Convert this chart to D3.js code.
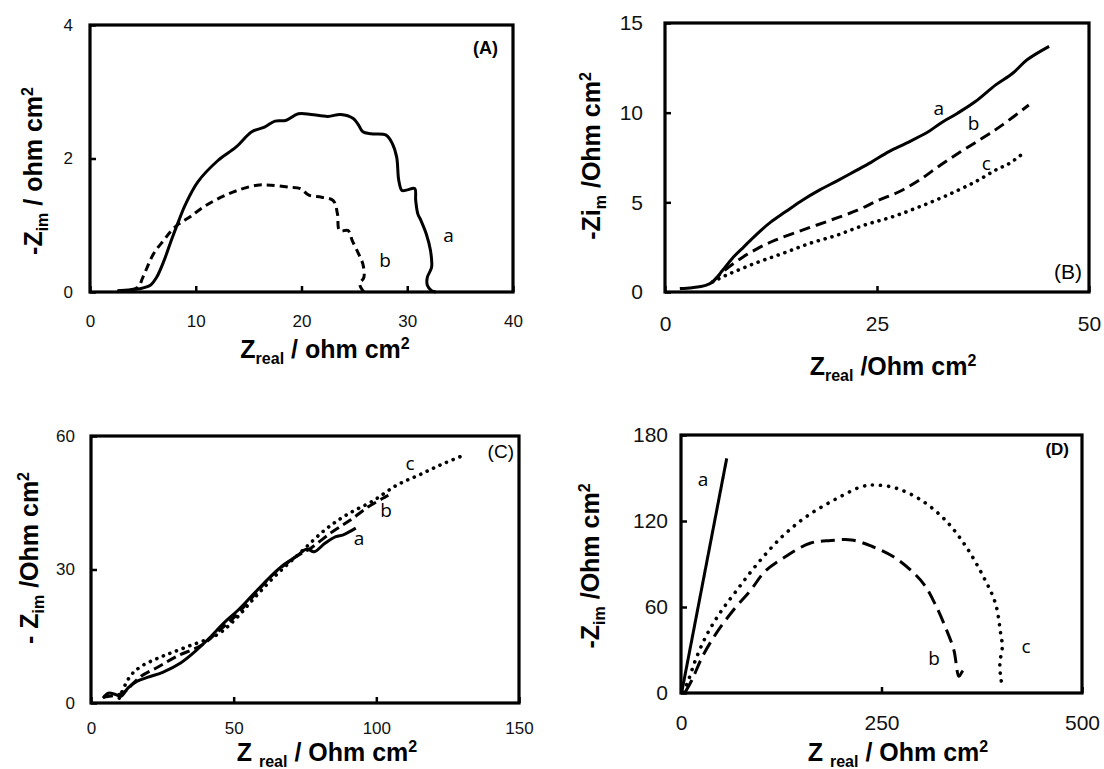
<!DOCTYPE html>
<html>
<head>
<meta charset="utf-8">
<title>Nyquist plots</title>
<script src="https://cdn.jsdelivr.net/npm/d3@7/dist/d3.min.js"></script>
<style>
  body { margin: 0; background: #fff; }
  svg { display: block; }
</style>
</head>
<body>
<svg id="mainsvg" width="1104" height="769"></svg>
<script>
// ---------- data (Z_real, -Z_im) ----------
// panel A
const aTicksX = [0, 10, 20, 30, 40];
const aTicksY = [0, 2, 4];
const aCurveA = [[2.6,0.02],[4.7,0.05],[5.7,0.1],[6.3,0.22],[7.0,0.47],[7.7,0.78],[8.4,1.07],[9.05,1.32],[10.2,1.65],[12.1,1.97],[13.8,2.17],[15.3,2.4],[16.5,2.47],[17.5,2.56],[18.5,2.57],[19.7,2.67],[20.9,2.66],[22.5,2.63],[23.7,2.66],[24.9,2.6],[25.4,2.5],[25.8,2.4],[26.6,2.37],[28.0,2.35],[28.6,2.22],[29.0,2.02],[29.2,1.67],[29.5,1.52],[30.0,1.53],[30.7,1.55],[30.8,1.37],[31.0,1.17],[31.3,1.07],[31.8,0.87],[32.2,0.62],[32.3,0.37],[31.9,0.22],[31.9,0.1],[32.3,0.02],[32.7,0]];
const aCurveB = [[2.6,0.01],[4.5,0.07],[5.0,0.22],[6.0,0.57],[7.0,0.78],[7.7,0.92],[8.4,1.02],[9.4,1.12],[10.7,1.27],[12.4,1.42],[14.1,1.53],[15.8,1.6],[17.1,1.6],[18.8,1.57],[19.9,1.55],[20.7,1.45],[21.9,1.42],[23.0,1.37],[23.4,1.17],[23.6,0.92],[24.4,0.92],[24.8,0.77],[25.4,0.57],[25.8,0.42],[25.9,0.22],[25.5,0.12],[25.8,0.02],[25.9,0]];

// panel B
const bTicksX = [0, 25, 50];
const bTicksY = [0, 5, 10, 15];
const bCurveA = [[1.75,0.19],[3.2,0.24],[4.8,0.37],[5.6,0.56],[6.8,1.21],[8.1,1.96],[9.3,2.52],[10.9,3.26],[12.5,3.91],[14.2,4.47],[16.2,5.12],[18.2,5.68],[20.3,6.2],[22.3,6.71],[24.3,7.23],[26.4,7.83],[28.4,8.29],[30.9,8.89],[32.5,9.41],[34.5,9.97],[36.6,10.62],[39.0,11.55],[41.0,12.2],[42.7,12.95],[45.3,13.7]];
const bCurveB = [[5.6,0.56],[6.8,1.12],[8.9,1.86],[10.9,2.42],[13.0,2.89],[16.2,3.45],[19.5,4.0],[22.7,4.56],[25.2,5.12],[27.6,5.59],[30.0,6.24],[32.5,7.08],[34.9,7.83],[37.4,8.57],[39.8,9.32],[42.9,10.43]];
const bCurveC = [[5.6,0.56],[7.2,0.93],[10.5,1.58],[13.8,2.14],[17.0,2.7],[20.3,3.17],[23.5,3.73],[26.8,4.19],[30.0,4.75],[33.3,5.4],[36.6,6.15],[39.0,6.8],[40.6,7.17],[42.5,7.83]];

// panel C
const cTicksX = [0, 50, 100, 150];
const cTicksY = [0, 30, 60];
const cCurveA = [[4.2,1.1],[6.1,2.2],[8.6,1.9],[10.5,1.5],[13.0,3.4],[16.2,4.9],[20.0,5.8],[25.1,6.9],[31.4,9.0],[36.5,11.6],[41.5,14.6],[46.6,18.0],[51.6,20.9],[56.7,24.3],[61.8,27.7],[66.8,30.7],[71.9,32.9],[75.7,34.6],[78.2,34.0],[82.0,35.9],[85.8,37.4],[88.4,37.8],[92.8,39.3]];
const cCurveB = [[4.2,1.3],[11.1,2.2],[13.7,3.7],[17.5,6.0],[23.8,8.2],[30.1,10.5],[39.0,13.1],[45.3,16.5],[50.4,19.4],[56.7,23.9],[64.3,29.2],[71.9,32.9],[77.0,34.8],[84.6,38.5],[90.9,41.1],[97.2,44.1],[102.3,46.0],[104.2,46.7]];
const cCurveC = [[9.9,1.1],[13.7,6.0],[17.5,8.2],[25.1,10.5],[33.9,12.7],[44.1,15.3],[50.4,18.7],[56.7,23.2],[64.3,28.4],[73.2,33.7],[82.0,38.9],[89.6,42.3],[98.5,45.3],[107.3,49.0],[114.9,51.2],[122.5,53.5],[130.7,55.7]];

// panel D
const dTicksX = [0, 250, 500];
const dTicksY = [0, 60, 120, 180];
const dCurveA = [[0.9,0.5],[57,163.7]];
const dCurveB = [[5.2,0.5],[13.8,9.3],[26.8,25.5],[44.1,41.8],[65.7,58.1],[87.3,72.0],[104.6,84.8],[130.5,95.2],[160.8,104.5],[186.7,106.4],[212.6,106.8],[238.5,102.2],[264.5,95.2],[286.1,85.9],[303.4,75.5],[316.3,62.7],[329.3,46.4],[340.1,30.2],[346.6,11.6],[350.9,15.1],[357.4,18.6]];
const dCurveC = [[3.0,0.5],[9.5,9.3],[18.2,23.2],[31.1,39.5],[48.4,55.7],[70.0,72.0],[95.9,90.6],[126.2,109.2],[156.4,123.1],[191.0,134.7],[225.6,144.0],[242.9,145.1],[268.8,142.8],[299.1,134.7],[329.3,120.8],[355.3,102.2],[376.9,81.3],[392.0,62.7],[398.5,41.8],[400.6,32.5],[397.6,20.9],[398.5,11.6],[400.6,4.6]];

// curve labels [text, x, y] in data units
const aLabels = [['a',33.9,0.85],['b',27.9,0.48]];
const bLabels = [['a',32.3,10.26],['b',36.4,9.4],['c',37.9,7.2]];
const cLabels = [['c',111.8,53.9],['b',103.4,43.4],['a',93.9,37.1]];
const dLabels = [['a',27.4,149.3],['b',315.5,24.4],['c',430.2,32.8]];

// ---------- drawing ----------
const svg = d3.select('#mainsvg');
const FONT = '"Liberation Sans", Arial, sans-serif';
const TITLE = 25;

// write text with sub/superscript parts
function richText(sel, parts, size) {
  let shift = 0;
  parts.forEach(p => {
    const ts = sel.append('tspan').text(p[0]);
    let target = 0;
    if (p[1] === 'sub') { ts.attr('font-size', size * 0.64); target = size * 0.22; }
    else if (p[1] === 'sup') { ts.attr('font-size', size * 0.64); target = -size * 0.36; }
    ts.attr('dy', target - shift);
    shift = target;
  });
}

function panel(cfg) {
  const x = d3.scaleLinear().domain(cfg.xd).range([cfg.left, cfg.right]);
  const y = d3.scaleLinear().domain(cfg.yd).range([cfg.bottom, cfg.top]);
  const g = svg.append('g');
  const fmt = d3.format('d');

  g.append('g')
    .attr('transform', `translate(0,${cfg.bottom})`)
    .call(d3.axisBottom(x).tickValues(cfg.xt).tickFormat(fmt).tickSizeInner(-6).tickSizeOuter(0).tickPadding(cfg.xpad))
    .call(a => a.select('.domain').remove())
    .call(a => a.selectAll('line').attr('stroke-width', 2.5))
    .call(a => a.selectAll('text').attr('font-family', FONT).attr('font-size', cfg.tfs).attr('fill', '#111'));

  g.append('g')
    .attr('transform', `translate(${cfg.left},0)`)
    .call(d3.axisLeft(y).tickValues(cfg.yt).tickFormat(fmt).tickSizeInner(-6).tickSizeOuter(0).tickPadding(cfg.ypad))
    .call(a => a.select('.domain').remove())
    .call(a => a.selectAll('line').attr('stroke-width', 2.5))
    .call(a => a.selectAll('text').attr('font-family', FONT).attr('font-size', cfg.tfs).attr('fill', '#111'));

  g.append('rect')
    .attr('x', cfg.left).attr('y', cfg.top)
    .attr('width', cfg.right - cfg.left).attr('height', cfg.bottom - cfg.top)
    .attr('fill', 'none').attr('stroke', '#000').attr('stroke-width', 3.2);

  const line = d3.line().x(d => x(d[0])).y(d => y(d[1])).curve(d3.curveCatmullRom.alpha(0.5));
  cfg.series.forEach(s => {
    g.append('path')
      .attr('d', line(s.data))
      .attr('fill', 'none')
      .attr('stroke', '#000')
      .attr('stroke-width', s.style === 'dot' ? 3.6 : 3)
      .attr('stroke-linecap', s.style === 'dot' ? 'round' : 'butt')
      .attr('stroke-dasharray', s.style === 'dash' ? cfg.dash : s.style === 'dot' ? cfg.dot : null);
  });

  g.selectAll('.clab').data(cfg.labels).join('text')
    .attr('x', d => x(d[1])).attr('y', d => y(d[2]))
    .attr('text-anchor', 'middle').attr('dy', '0.35em')
    .attr('font-family', '"Open Sans", "Noto Sans", sans-serif')
    .attr('font-size', 19)
    .text(d => d[0]);

  g.append('text')
    .attr('x', cfg.tag[1]).attr('y', cfg.tag[2])
    .attr('text-anchor', 'end')
    .attr('font-family', FONT).attr('font-size', cfg.tag[3])
    .attr('font-weight', cfg.tag[4] ? 'bold' : 'normal')
    .text(cfg.tag[0]);

  const xt = g.append('text')
    .attr('x', cfg.xtitle.x).attr('y', cfg.xtitle.y)
    .attr('text-anchor', 'middle')
    .attr('font-family', FONT).attr('font-weight', 'bold').attr('font-size', TITLE);
  richText(xt, cfg.xtitle.parts, TITLE);

  const yt = g.append('text')
    .attr('transform', `translate(${cfg.ytitle.x},${cfg.ytitle.y}) rotate(-90)`)
    .attr('text-anchor', 'middle')
    .attr('font-family', FONT).attr('font-weight', 'bold').attr('font-size', TITLE);
  richText(yt, cfg.ytitle.parts, TITLE);
}

panel({
  xd: [0, 40], yd: [0, 4], left: 90, right: 513, top: 25, bottom: 292,
  xt: aTicksX, yt: aTicksY, xpad: 23, ypad: 17, tfs: 17,
  dash: '8,5', dot: '0.1,7',
  series: [{ data: aCurveA, style: 'solid' }, { data: aCurveB, style: 'dash' }],
  labels: aLabels,
  tag: ['(A)', 498, 54, 18, true],
  xtitle: { x: 325, y: 358, parts: [['Z'], ['real', 'sub'], [' / ohm cm'], ['2', 'sup']] },
  ytitle: { x: 42, y: 171, parts: [['-Z'], ['im', 'sub'], [' / ohm cm'], ['2', 'sup']] }
});

panel({
  xd: [0, 50], yd: [0, 15], left: 665, right: 1089, top: 23, bottom: 292,
  xt: bTicksX, yt: bTicksY, xpad: 24, ypad: 22, tfs: 21,
  dash: '11,6', dot: '0.1,7',
  series: [{ data: bCurveA, style: 'solid' }, { data: bCurveB, style: 'dash' }, { data: bCurveC, style: 'dot' }],
  labels: bLabels,
  tag: ['(B)', 1082, 279, 21, false],
  xtitle: { x: 893, y: 375, parts: [['Z'], ['real', 'sub'], [' /Ohm cm'], ['2', 'sup']] },
  ytitle: { x: 600, y: 156, parts: [['-Zi'], ['m', 'sub'], [' /Ohm cm'], ['2', 'sup']] }
});

panel({
  xd: [0, 150], yd: [0, 60], left: 91, right: 519, top: 436, bottom: 703,
  xt: cTicksX, yt: cTicksY, xpad: 19, ypad: 16, tfs: 17,
  dash: '10,5', dot: '0.1,7',
  series: [{ data: cCurveA, style: 'solid' }, { data: cCurveB, style: 'dash' }, { data: cCurveC, style: 'dot' }],
  labels: cLabels,
  tag: ['(C)', 514, 458, 19, false],
  xtitle: { x: 327, y: 761, parts: [['Z '], ['real', 'sub'], [' / Ohm cm'], ['2', 'sup']] },
  ytitle: { x: 38, y: 558, parts: [['- Z'], ['im', 'sub'], [' /Ohm cm'], ['2', 'sup']] }
});

panel({
  xd: [0, 500], yd: [0, 180], left: 681, right: 1082, top: 435, bottom: 693,
  xt: dTicksX, yt: dTicksY, xpad: 22, ypad: 13, tfs: 21,
  dash: '14,7', dot: '0.1,8',
  series: [{ data: dCurveA, style: 'solid' }, { data: dCurveB, style: 'dash' }, { data: dCurveC, style: 'dot' }],
  labels: dLabels,
  tag: ['(D)', 1069, 455, 17, true],
  xtitle: { x: 898, y: 761, parts: [['Z '], ['real', 'sub'], [' / Ohm cm'], ['2', 'sup']] },
  ytitle: { x: 599, y: 566, parts: [['-Z'], ['im', 'sub'], [' /Ohm cm'], ['2', 'sup']] }
});
</script>
</body>
</html>
